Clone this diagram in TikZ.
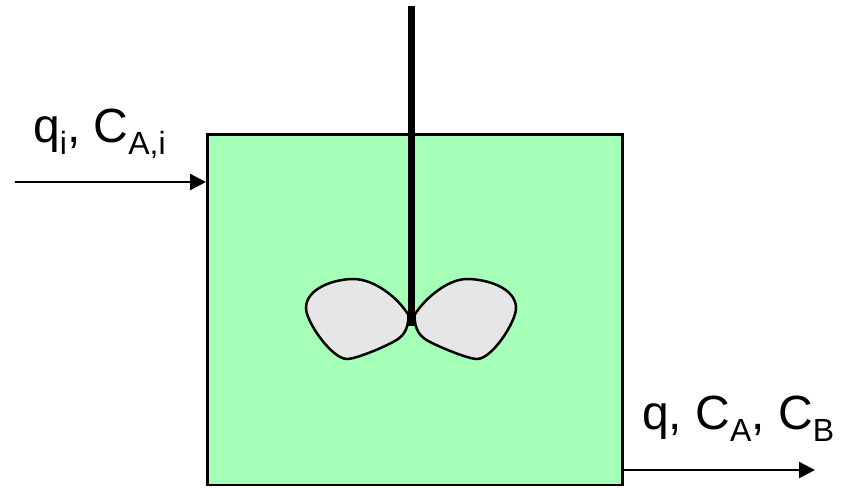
\documentclass[tikz,border=0pt]{standalone}
\usepackage{fontspec}
\setmainfont{Liberation Sans}
\usetikzlibrary{arrows.meta}
\definecolor{tankgreen}{HTML}{A5FFB7}
\definecolor{bladegrey}{HTML}{E6E6E6}
\newcommand{\subtxt}[1]{\raisebox{-12pt}{\fontsize{32}{32}\selectfont #1}}
\tikzset{
    tank/.style={draw, line width=2.5pt, fill=tankgreen, minimum width=415.3pt, minimum height=350.5pt, inner sep=0pt},
    blade/.style={draw, line width=2.5pt, fill=bladegrey},
    shaft/.style={line width=6.5pt},
    flow/.style={line width=2.4pt, -{Triangle[length=16pt,width=16pt]}, shorten >=0pt},
    label/.style={font=\fontsize{48}{48}\selectfont, inner sep=0pt, anchor=base west}
}
\begin{document}
\begin{tikzpicture}[x=1pt, y=-1pt]
    \useasboundingbox (0,0) rectangle (843,488);
    % Nodes
    \node[tank] (vessel) at (414.9,309.5) {};
    \node[label] (inlet) at (33,142) {q\subtxt{i}, C\subtxt{A,i}};
    \node[label] (outlet) at (642,429) {q, C\subtxt{A}, C\subtxt{B}};
    \coordinate (inletstart) at (15,182);
    \coordinate (inletend) at (vessel.west |- inletstart);
    \coordinate (outletstart) at (vessel.east |- 0,470);
    \coordinate (outletend) at (815,470);
    \coordinate (shafttop) at (411.3,6);
    \coordinate (hub) at (411.3,326);
    % Blades
    \draw[blade] (408.5,315) .. controls (398,298) and (375,279) .. (353,279)
        .. controls (335,279) and (306,288) .. (306,308)
        .. controls (306,322) and (332,359) .. (347,359)
        .. controls (355,359) and (380,349) .. (393,342)
        .. controls (403,337) and (408.5,330) .. (408.5,315) -- cycle;
    \draw[blade] (414.5,315) .. controls (425,298) and (448,279) .. (467,279)
        .. controls (487,279) and (516,288) .. (516,308)
        .. controls (516,322) and (492,359) .. (477,359)
        .. controls (469,359) and (444,349) .. (430,342)
        .. controls (420,337) and (414.5,330) .. (414.5,315) -- cycle;
    % Edges
    \draw[shaft] (shafttop) -- (hub);
    \draw[flow] (inletstart) -- (inletend);
    \draw[flow] (outletstart) -- (outletend);
\end{tikzpicture}
\end{document}
